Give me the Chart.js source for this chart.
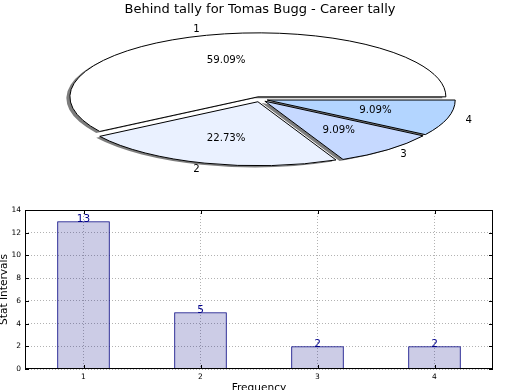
<!DOCTYPE html>
<html><head><meta charset="utf-8">
<script src="https://cdn.jsdelivr.net/npm/chart.js@4/dist/chart.umd.min.js"></script>
<style>
html,body{margin:0;padding:0;background:#fff;overflow:hidden;width:520px;height:390px;}
#pieWrap{position:absolute;left:0;top:0;width:520px;height:200px;}
#barWrap{position:absolute;left:0;top:200px;width:520px;height:200px;}
canvas{display:block;}
</style></head><body>
<div id="pieWrap"><canvas id="pie" width="520" height="200"></canvas></div>
<div id="barWrap"><canvas id="bar" width="520" height="200"></canvas></div>
<script>
// ---- data ----
const chartTitle = 'Behind tally for Tomas Bugg - Career tally';
const categories = ['1', '2', '3', '4'];
const tallies = [13, 5, 2, 2];
const yTicks = [0, 2, 4, 6, 8, 10, 12, 14];
const yAxisTitle = 'Stat Intervals';
const xAxisTitle = 'Frequency';
const sliceColors = ['#ffffff', '#eaf1ff', '#c6d9ff', '#b3d5ff'];

// ---- styling constants ----
const FONT = 'DejaVu Sans';
const R = 188;          // pie radius (horizontal)
const K = 64 / 188;     // vertical squash of the pie
const CY = 99.3;        // vertical centre of the pie on the page
const EXPLODE = 7.5;    // explode distance
const total = tallies.reduce((a, b) => a + b, 0);
const pieOrder = [3, 2, 1, 0]; // clockwise from the right == counter-clockwise from the right in original order

function midAngle(a) { return (a.startAngle + a.endAngle) / 2; }

const ellipsePie = {
  id: 'ellipsePie',
  beforeDatasetsDraw(chart) {
    const ctx = chart.ctx;
    const arcs = chart.getDatasetMeta(0).data;
    const cy0 = arcs[0].y;
    const inSpace = (fn) => {
      ctx.save();
      ctx.translate(0, CY); ctx.scale(1, K); ctx.translate(0, -cy0);
      fn();
      ctx.restore();
    };
    // shadow pass
    arcs.forEach(a => {
      const m = midAngle(a);
      ctx.save();
      ctx.shadowColor = 'rgba(70,70,70,0.7)';
      ctx.shadowOffsetX = -3.5; ctx.shadowOffsetY = 1.5; ctx.shadowBlur = 0;
      inSpace(() => { ctx.translate(Math.cos(m) * EXPLODE, Math.sin(m) * EXPLODE); a.draw(ctx); });
      ctx.restore();
    });
    // fill pass
    arcs.forEach(a => {
      const m = midAngle(a);
      inSpace(() => { ctx.translate(Math.cos(m) * EXPLODE, Math.sin(m) * EXPLODE); a.draw(ctx); });
    });
    // border pass (unscaled line width)
    arcs.forEach(a => {
      const m = midAngle(a);
      const cx = a.x + Math.cos(m) * EXPLODE;
      const cy = CY + Math.sin(m) * EXPLODE * K;
      ctx.save();
      ctx.beginPath();
      ctx.moveTo(cx, cy);
      ctx.ellipse(cx, cy, a.outerRadius, a.outerRadius * K, 0, a.startAngle, a.endAngle);
      ctx.closePath();
      ctx.lineWidth = 1; ctx.strokeStyle = '#000'; ctx.lineJoin = 'miter';
      ctx.stroke();
      ctx.restore();
    });
    return false;
  },
  afterDraw(chart) {
    const ctx = chart.ctx;
    const arcs = chart.getDatasetMeta(0).data;
    ctx.save();
    ctx.fillStyle = '#000';
    ctx.font = '10.2px "' + FONT + '"';
    ctx.textBaseline = 'middle';
    arcs.forEach((a, j) => {
      const i = pieOrder[j];
      const m = midAngle(a);
      const c = Math.cos(m), s = Math.sin(m);
      const cx = a.x + c * EXPLODE;
      const cy = CY + s * EXPLODE * K;
      const r = a.outerRadius;
      // category label
      ctx.textAlign = c < 0 ? 'right' : 'left';
      ctx.fillText(categories[i], cx + 1.1 * r * c, cy + 1.1 * r * K * s);
      // percentage
      ctx.textAlign = 'center';
      const pct = (tallies[i] / total * 100).toFixed(2) + '%';
      ctx.fillText(pct, cx + 0.6 * r * c, cy + 0.6 * r * K * s);
    });
    ctx.restore();
  }
};

new Chart(document.getElementById('pie'), {
  type: 'pie',
  data: {
    labels: pieOrder.map(i => categories[i]),
    datasets: [{
      data: pieOrder.map(i => tallies[i]),
      backgroundColor: pieOrder.map(i => sliceColors[i]),
      borderWidth: 0,
      rotation: 90,
      radius: R,
      clip: false
    }]
  },
  options: {
    responsive: false,
    animation: false,
    events: [],
    layout: { padding: 0 },
    plugins: {
      legend: { display: false },
      tooltip: { enabled: false },
      title: {
        display: true, text: chartTitle, color: '#000',
        font: { family: FONT, size: 13, weight: 'normal' },
        padding: { top: 2, bottom: 2 }
      }
    }
  },
  plugins: [ellipsePie]
});

// ---- bar chart ----
const barDecor = {
  id: 'barDecor',
  afterDatasetsDraw(chart) {
    const ctx = chart.ctx;
    const meta = chart.getDatasetMeta(0);
    ctx.save();
    ctx.fillStyle = '#00008b';
    ctx.font = '10.5px "' + FONT + '"';
    ctx.textAlign = 'center';
    ctx.textBaseline = 'alphabetic';
    meta.data.forEach((b, i) => { ctx.fillText(String(tallies[i]), b.x, b.y + 0.5); });
    ctx.restore();
  },
  afterDraw(chart) {
    const ctx = chart.ctx;
    const a = chart.chartArea;
    const xs = chart.scales.x, ys = chart.scales.y;
    ctx.save();
    ctx.strokeStyle = '#000';
    ctx.lineWidth = 1;
    ctx.strokeRect(Math.round(a.left) + 0.5, Math.round(a.top) + 0.5, Math.round(a.right - a.left) - 1, Math.round(a.bottom - a.top) - 1);
    ctx.beginPath();
    ys.ticks.forEach(t => {
      const y = Math.round(ys.getPixelForValue(t.value)) + 0.5;
      ctx.moveTo(a.left, y); ctx.lineTo(a.left + 4, y);
      ctx.moveTo(a.right, y); ctx.lineTo(a.right - 4, y);
    });
    xs.ticks.forEach((t, i) => {
      const x = Math.round(xs.getPixelForTick(i)) + 0.5;
      ctx.moveTo(x, a.bottom); ctx.lineTo(x, a.bottom - 4);
      ctx.moveTo(x, a.top); ctx.lineTo(x, a.top + 4);
    });
    ctx.stroke();
    ctx.restore();
  }
};

new Chart(document.getElementById('bar'), {
  type: 'bar',
  data: {
    labels: categories,
    datasets: [{
      data: tallies,
      backgroundColor: 'rgba(0,0,128,0.2)',
      borderColor: '#000080',
      borderWidth: 1,
      barPercentage: 0.45,
      categoryPercentage: 1.0
    }]
  },
  options: {
    responsive: false,
    animation: false,
    events: [],
    layout: { padding: { top: 10, right: 27, left: 0, bottom: 0 } },
    plugins: { legend: { display: false }, tooltip: { enabled: false } },
    scales: {
      x: {
        offset: true,
        grid: { offset: false, color: 'rgba(0,0,0,0.3)', drawTicks: false, lineWidth: 1 },
        border: { display: false, dash: [1, 2] },
        ticks: { color: '#000', font: { family: FONT, size: 7.5 }, padding: 4, maxRotation: 0 },
        title: { display: true, text: xAxisTitle, color: '#000', font: { family: FONT, size: 10.6, lineHeight: 1 }, padding: { top: 0, bottom: 6.8 } },
        afterFit: s => { s.height = 31; }
      },
      y: {
        min: 0, max: 14,
        afterBuildTicks: s => { s.ticks = yTicks.map(v => ({ value: v })); },
        grid: { color: 'rgba(0,0,0,0.3)', drawTicks: false, lineWidth: 1 },
        border: { display: false, dash: [1, 2] },
        ticks: { color: '#000', font: { family: FONT, size: 7.5 }, padding: 4 },
        title: { display: true, text: yAxisTitle, color: '#000', font: { family: FONT, size: 10.6, lineHeight: 1 }, padding: { top: -0.8, bottom: 0 } },
        afterFit: s => { s.width = 25; }
      }
    }
  },
  plugins: [barDecor]
});
</script>
</body></html>
